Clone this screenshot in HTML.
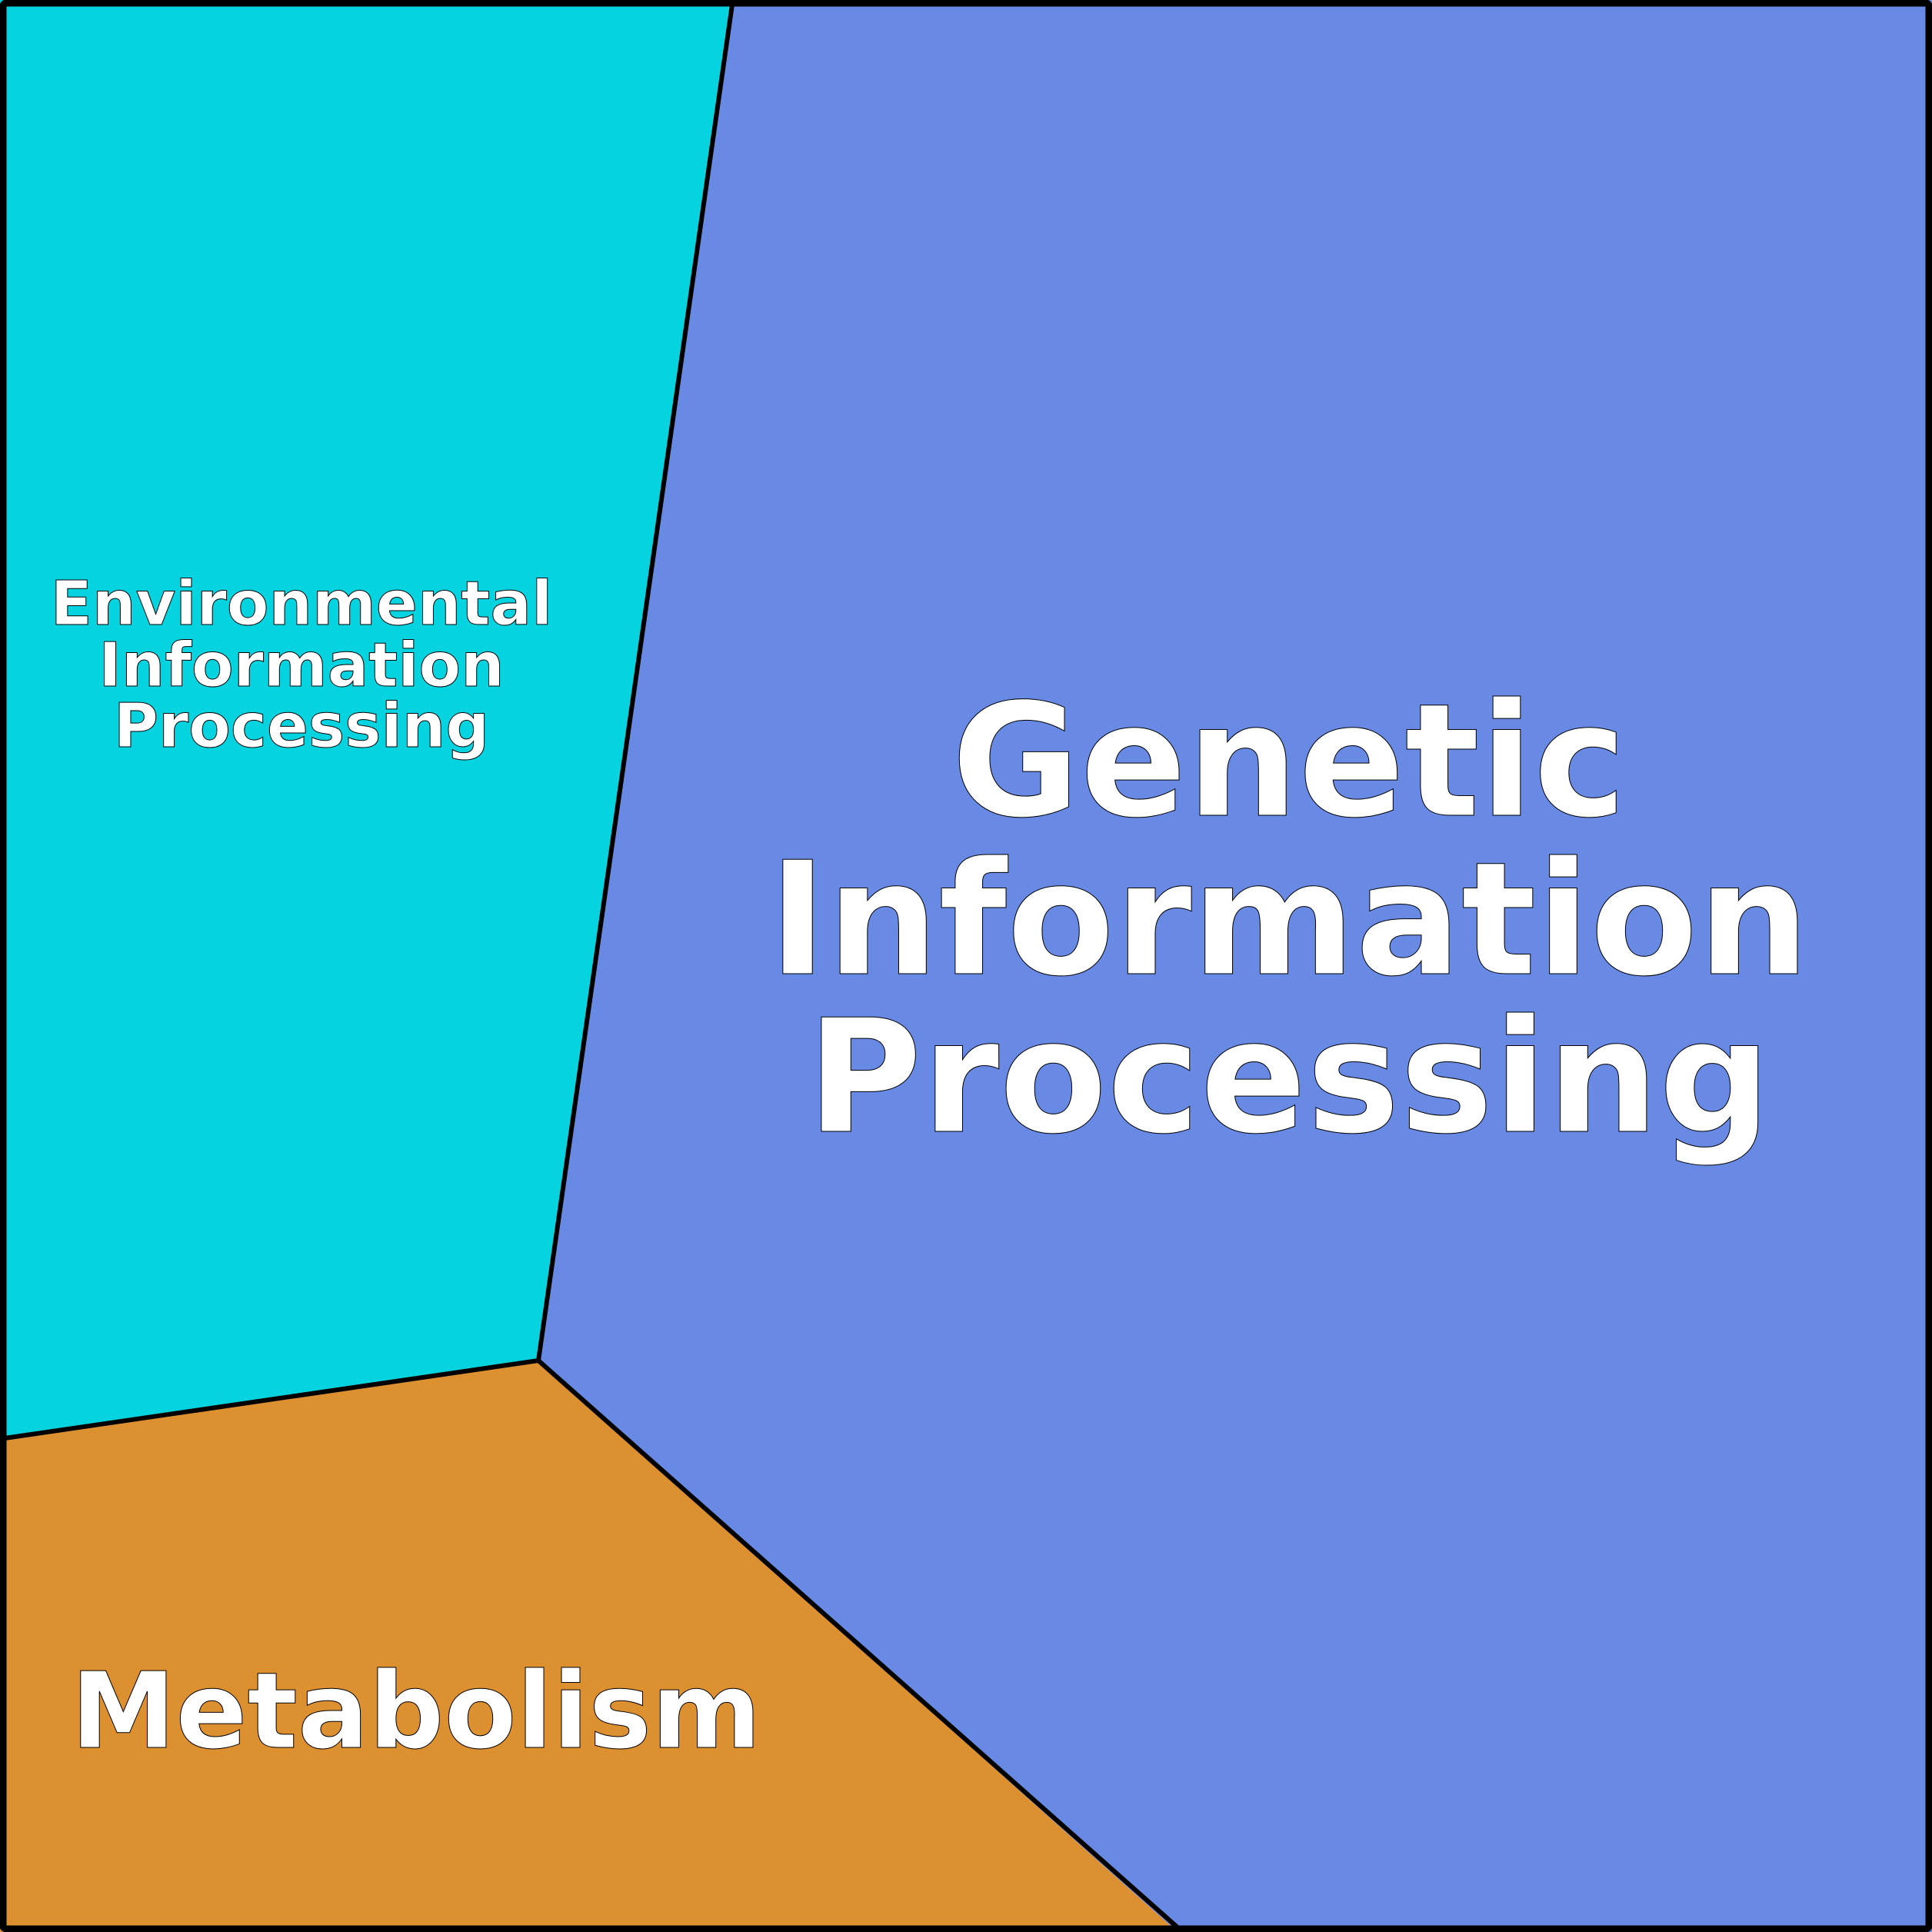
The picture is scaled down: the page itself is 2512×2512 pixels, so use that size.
<!DOCTYPE html>
<html><head><meta charset="utf-8"><style>html,body{margin:0;padding:0;background:#fff}svg{display:block}</style></head>
<body>
<svg width="2512" height="2512" viewBox="0 0 2512 2512" xmlns="http://www.w3.org/2000/svg">
<polygon points="0,0 952,0 700,1769 0,1870" fill="#05d3df"/>
<polygon points="952,0 2512,0 2512,2512 1531,2512 700,1769" fill="#6889e4"/>
<polygon points="0,1870 700,1769 1531,2512 0,2512" fill="#dc9030"/>
<polyline points="952,6 700,1769 6,1870" fill="none" stroke="#000" stroke-width="6"/>
<line x1="700" y1="1769" x2="1531" y2="2506" stroke="#000" stroke-width="6"/>
<rect x="4" y="4" width="2504" height="2504" fill="none" stroke="#000" stroke-width="9" rx="4"/>
<g font-family="'DejaVu Sans','Liberation Sans',sans-serif" font-weight="bold" fill="#fff" stroke="#000" stroke-width="1" text-anchor="middle">
<text x="1676" y="1060" font-size="204">Genetic</text>
<text x="1676" y="1266" font-size="204">Information</text>
<text x="1676" y="1471" font-size="204">Processing</text>
<text x="392" y="812" font-size="79.5">Environmental</text>
<text x="392" y="892" font-size="79.5">Information</text>
<text x="392" y="971" font-size="79.5">Processing</text>
<text x="541" y="2272" font-size="137">Metabolism</text>
</g>
</svg>
</body></html>
